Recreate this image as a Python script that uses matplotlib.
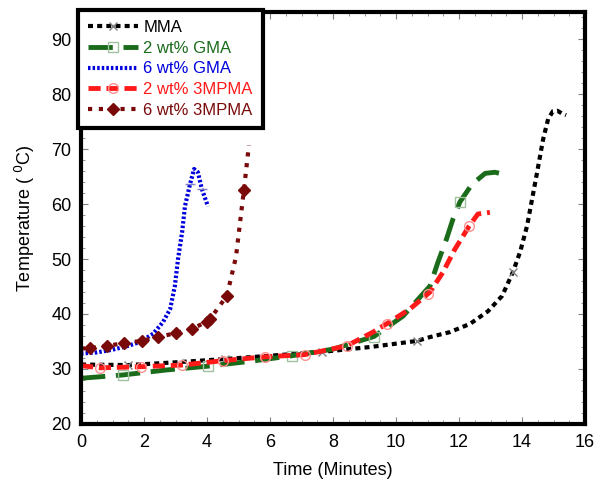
import matplotlib
matplotlib.use("Agg")
import numpy as np
import matplotlib.pyplot as plt
from matplotlib.ticker import MultipleLocator

plt.rcParams["font.family"] = ["Liberation Sans", "DejaVu Sans"]

# MMA
mma_t = [0, 1.5, 3.0, 4.57, 6.0, 7.65, 9.2, 10.67, 11.08, 11.71, 12.35, 12.92, 13.37, 13.71, 13.94, 14.16,
         14.32, 14.48, 14.67, 14.83, 14.98, 15.12, 15.27, 15.4]
mma_T = [30.8, 30.7, 31.2, 31.8, 32.4, 33.1, 34.0, 35.1, 35.8, 36.7, 38.2, 40.5, 43.3, 47.6, 51.3, 56.0,
         60.9, 65.8, 71.8, 75.5, 76.9, 77.0, 76.5, 76.2]
mma_mk = [1.5, 4.57, 7.65, 10.67, 13.71]

# 2 wt% GMA
gma2_t = [0.0, 1.33, 2.7, 4.03, 5.4, 6.7, 8.0, 9.3, 10.22, 11.08, 11.33, 11.6, 11.81, 12.03, 12.41, 12.83, 13.14, 13.37]
gma2_T = [28.3, 28.9, 29.8, 30.5, 31.4, 32.4, 33.6, 35.9, 39.6, 45.1, 49.4, 53.6, 57.3, 60.4, 63.6, 65.6, 65.8, 65.5]
gma2_mk = [1.33, 4.03, 6.7, 9.3, 12.03]

# 6 wt% GMA
gma6_t = [0.0, 0.5, 1.0, 1.5, 1.87, 2.29, 2.6, 2.83, 2.98, 3.08, 3.21, 3.3, 3.46, 3.59, 3.71, 3.84, 4.03]
gma6_T = [32.8, 33.0, 33.5, 34.2, 34.9, 36.4, 38.5, 40.9, 45.1, 50.0, 54.9, 59.6, 63.6, 66.4, 65.8, 62.7, 59.6]
gma6_mk = [3.46, 3.84]

# 2 wt% 3MPMA
mp2_t = [0.0, 0.6, 1.9, 3.2, 4.5, 5.84, 7.1, 8.44, 9.27, 9.7, 10.44, 11.08, 11.49, 11.87, 12.13, 12.32, 12.6, 12.98]
mp2_T = [30.6, 30.2, 30.4, 30.7, 31.5, 32.2, 32.6, 34.2, 36.7, 38.2, 40.9, 44.0, 47.6, 51.8, 54.2, 56.0, 58.2, 58.5]
mp2_mk = [0.6, 1.9, 3.2, 4.5, 5.84, 7.1, 8.44, 9.7, 11.0, 12.32]

# 6 wt% 3MPMA
mp6_t = [0.0, 0.29, 0.83, 1.37, 1.93, 2.44, 3.0, 3.52, 4.0, 4.1, 4.63, 4.92, 5.17, 5.33]
mp6_T = [33.7, 33.8, 34.2, 34.7, 35.1, 35.8, 36.5, 37.3, 38.6, 39.1, 43.3, 50.4, 62.5, 70.7]
mp6_mk = [0.29, 0.83, 1.37, 1.93, 2.44, 3.0, 3.52, 4.0, 4.1, 4.63, 5.17]

fig = plt.figure(figsize=(6, 4.94), dpi=100)
ax = fig.add_axes([0.135, 0.142, 0.84, 0.834])

green = "#1a6b1a"
blue = "#0000dd"
red = "#ff1a1a"
brown = "#7a0a0a"

ax.plot(mma_t, mma_T, color="black", lw=3, dashes=(1.2, 1.0), label="MMA",
        marker="x", markevery=[], ms=6, mec="gray", mew=1)
ax.plot(mma_mk, np.interp(mma_mk, mma_t, mma_T), ls="none", marker="x", ms=6, mec="gray", mew=1)

ax.plot(gma2_t, gma2_T, color=green, lw=3.5, dashes=(5, 2.2), label="2 wt% GMA",
        marker="s", markevery=[], ms=7, mfc="none", mec="#a0c0a0", mew=1)
ax.plot(gma2_mk, np.interp(gma2_mk, gma2_t, gma2_T), ls="none", marker="s", ms=7,
        mfc="none", mec="#a0c0a0", mew=1)

ax.plot(gma6_t, gma6_T, color=blue, lw=3, dashes=(0.6, 0.5), label="6 wt% GMA")
ax.plot(gma6_mk, np.interp(gma6_mk, gma6_t, gma6_T), ls="none", marker="_", ms=7,
        mec="#8080c0", mew=1)

ax.plot(mp2_t, mp2_T, color=red, lw=3.5, dashes=(2.5, 1.2), label="2 wt% 3MPMA",
        marker="o", markevery=[], ms=7, mfc="none", mec="#ff9090", mew=1)
ax.plot(mp2_mk, np.interp(mp2_mk, mp2_t, mp2_T), ls="none", marker="o", ms=7,
        mfc="none", mec="#ff9090", mew=1)

ax.plot(mp6_t, mp6_T, color=brown, lw=3, dashes=(1.0, 1.6), label="6 wt% 3MPMA",
        marker="D", markevery=[], ms=6)
ax.plot(mp6_mk, np.interp(mp6_mk, mp6_t, mp6_T), ls="none", marker="D", ms=6, color=brown)

ax.set_xlim(0, 16)
ax.set_ylim(20, 95)
ax.set_yticks([20, 30, 40, 50, 60, 70, 80, 90])
ax.xaxis.set_major_locator(MultipleLocator(2))
ax.xaxis.set_minor_locator(MultipleLocator(0.5))
ax.yaxis.set_minor_locator(MultipleLocator(2))
ax.tick_params(which="both", direction="in", top=True, right=True, labelsize=13, color="gray")
ax.tick_params(which="major", length=5, pad=7)
ax.tick_params(which="minor", length=3)
for s in ax.spines.values():
    s.set_linewidth(3)

ax.set_xlabel("Time (Minutes)", fontsize=13, labelpad=8)
ax.set_ylabel("Temperature ( $^{0}$C)", fontsize=13, labelpad=10)

leg = ax.legend(loc="upper left", bbox_to_anchor=(-0.005, 1.005), fontsize=12,
                handlelength=3.0, handletextpad=0.3, labelspacing=0.35,
                borderpad=0.6, fancybox=False, framealpha=1, borderaxespad=0)
leg.get_frame().set_edgecolor("black")
leg.get_frame().set_linewidth(3)
cols = ["black", green, blue, red, brown]
for t, c in zip(leg.get_texts(), cols):
    t.set_color(c)

fig.savefig("out.png")
